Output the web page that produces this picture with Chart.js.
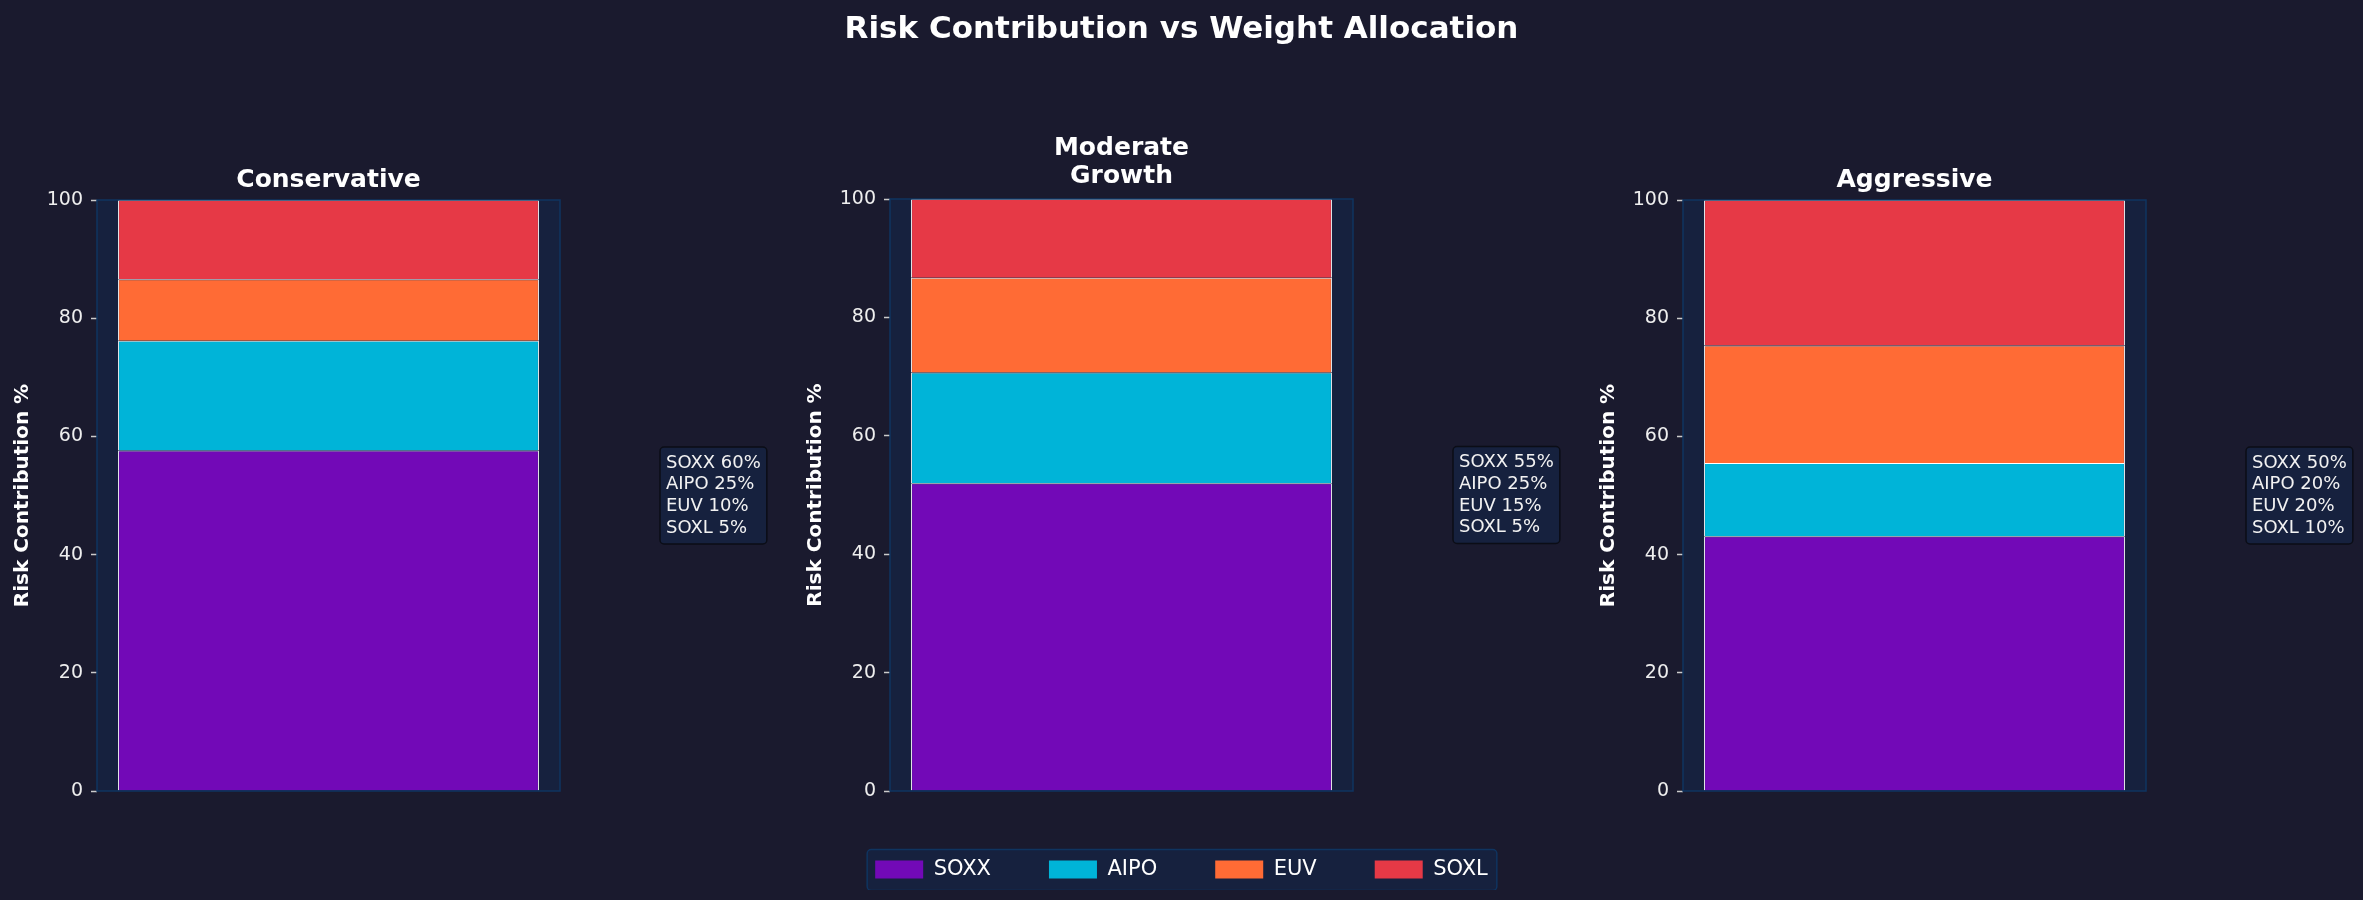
<!DOCTYPE html>
<html>
<head>
<meta charset="utf-8">
<title>Risk Contribution vs Weight Allocation</title>
<script src="https://cdn.jsdelivr.net/npm/chart.js@4.4.1/dist/chart.umd.min.js"></script>
<style>
  html, body { margin: 0; padding: 0; background: #1a1a2e; overflow: hidden; }
  canvas { position: absolute; }
</style>
</head>
<body>
<canvas id="c0" width="777" height="724" style="left:0px;top:166px"></canvas>
<canvas id="c1" width="777" height="889" style="left:793px;top:1px"></canvas>
<canvas id="c2" width="777" height="724" style="left:1586px;top:166px"></canvas>
<script>
var scenarios = ['Conservative', 'Moderate Growth', 'Aggressive'];
var assets = ['SOXX', 'AIPO', 'EUV', 'SOXL'];
var colors = ['#7209b7', '#00b4d8', '#ff6b35', '#e63946'];

// risk contribution (%) per scenario
var soxxRisk = [57.6, 52.0, 43.1];
var aipoRisk = [18.6, 18.7, 12.4];
var euvRisk  = [10.4, 16.0, 19.9];
var soxlRisk = [13.4, 13.3, 24.6];

// weight allocation (%) shown in the side boxes
var soxxWeight = [60, 55, 50];
var aipoWeight = [25, 25, 20];
var euvWeight  = [10, 15, 20];
var soxlWeight = [5, 5, 10];

var yTicks = [0, 20, 40, 60, 80, 100];

var riskSeries = [soxxRisk, aipoRisk, euvRisk, soxlRisk];
var weightSeries = [soxxWeight, aipoWeight, euvWeight, soxlWeight];

var FONT = "'DejaVu Sans', sans-serif";
Chart.defaults.font.family = FONT;
Chart.defaults.color = '#eeeeee';

function roundRect(ctx, x, y, w, h, r) {
  ctx.beginPath();
  ctx.moveTo(x + r, y);
  ctx.arcTo(x + w, y, x + w, y + h, r);
  ctx.arcTo(x + w, y + h, x, y + h, r);
  ctx.arcTo(x, y + h, x, y, r);
  ctx.arcTo(x, y, x + w, y, r);
  ctx.closePath();
}

function makePanel(i) {
  return {
    id: 'panel' + i,
    beforeDraw: function(chart) {
      var a = chart.chartArea, ctx = chart.ctx;
      ctx.save();
      ctx.fillStyle = '#16213e';
      ctx.fillRect(a.left, a.top, a.right - a.left, a.bottom - a.top);
      // legend frame (only middle chart has a legend)
      if (chart.legend && chart.options.plugins.legend.display) {
        var hb = chart.legend.legendHitBoxes;
        var l = hb[0].left - 8, r = hb[hb.length - 1].left + hb[hb.length - 1].width + 9;
        var t = hb[0].top - 9.5, h = 41;
        roundRect(ctx, l, t, r - l, h, 4);
        ctx.fillStyle = '#16213e';
        ctx.fill();
        ctx.lineWidth = 1.5;
        ctx.strokeStyle = '#0f3460';
        ctx.stroke();
      }
      ctx.restore();
    },
    afterDatasetsDraw: function(chart) {
      var a = chart.chartArea, ctx = chart.ctx;
      ctx.save();
      ctx.strokeStyle = '#0f3460';
      ctx.lineWidth = 1.5;
      ctx.strokeRect(a.left, a.top, a.right - a.left, a.bottom - a.top);
      ctx.restore();
    },
    afterDraw: function(chart) {
      var a = chart.chartArea, ctx = chart.ctx;
      var lines = assets.map(function(name, k) { return name + ' ' + weightSeries[k][i] + '%'; });
      ctx.save();
      ctx.font = '18px ' + FONT;
      var tw = 0;
      lines.forEach(function(s) { tw = Math.max(tw, ctx.measureText(s).width); });
      var lh = 21.7, px = 6, py = 5;
      var w = tw + 2 * px, h = lines.length * lh + 2 * py;
      var x0 = a.right + 100;
      var y0 = chart.scales.y.getPixelForValue(50) - h / 2;
      roundRect(ctx, x0, y0, w, h, 4);
      ctx.fillStyle = '#16213e';
      ctx.fill();
      ctx.lineWidth = 1.5;
      ctx.strokeStyle = '#0b0d16';
      ctx.stroke();
      ctx.fillStyle = '#f2f2f2';
      ctx.textBaseline = 'middle';
      ctx.textAlign = 'left';
      lines.forEach(function(s, k) {
        ctx.fillText(s, x0 + px, y0 + py + lh * (k + 0.5));
      });
      ctx.restore();
    }
  };
}

function subTitle(i, padBottom) {
  return {
    display: true,
    text: scenarios[i].split(' '),
    color: '#ffffff',
    fullSize: false,
    font: { family: FONT, size: 25, weight: 'bold', lineHeight: 1.12 },
    padding: { top: 0, bottom: padBottom }
  };
}

function makeChart(i) {
  var mid = (i === 1);
  var datasets = assets.map(function(name, k) {
    return {
      label: name,
      data: [riskSeries[k][i]],
      backgroundColor: colors[k],
      borderColor: '#ffffff',
      borderWidth: 1,
      barPercentage: 0.909,
      categoryPercentage: 1
    };
  });

  var scales = {
    x: {
      stacked: true,
      display: true,
      ticks: { display: false },
      grid: { display: false, drawTicks: false },
      border: { display: false },
      afterFit: function(s) { s.height = mid ? 10 : 99; }
    },
    y: {
      stacked: true,
      min: 0,
      max: 100,
      afterBuildTicks: function(s) { s.ticks = yTicks.map(function(v) { return { value: v }; }); },
      ticks: { color: '#eeeeee', font: { family: FONT, size: 19 }, padding: 8 },
      grid: { drawOnChartArea: false, drawTicks: true, tickLength: 6, tickColor: '#cccccc', tickWidth: 1.5 },
      border: { display: false },
      title: {
        display: true,
        text: 'Risk Contribution %',
        color: '#ffffff',
        font: { family: FONT, size: 20, weight: 'bold' },
        padding: { top: 10.5, bottom: 0 }
      },
      afterFit: function(s) { s.width = 97; }
    }
  };
  if (mid) {
    scales.r = {
      type: 'linear',
      position: 'right',
      display: true,
      ticks: { display: false },
      grid: { display: false, drawTicks: false },
      border: { display: false },
      afterFit: function(s) { s.width = 217; }
    };
  }

  return new Chart(document.getElementById('c' + i), {
    type: 'bar',
    data: { labels: [scenarios[i]], datasets: datasets },
    options: {
      responsive: false,
      animation: false,
      devicePixelRatio: 1,
      layout: { padding: { left: 0, top: 0, bottom: 0, right: mid ? 0 : 217 } },
      plugins: {
        title: mid ? {
          display: true,
          text: 'Risk Contribution vs Weight Allocation',
          color: '#ffffff',
          font: { family: FONT, size: 31, weight: 'bold', lineHeight: 1.2 },
          padding: { top: 10, bottom: 85.8 }
        } : subTitle(i, 6),
        subtitle: mid ? subTitle(i, 9) : { display: false },
        legend: {
          display: mid,
          position: 'bottom',
          labels: {
            color: '#ffffff',
            font: { family: FONT, size: 21 },
            boxWidth: 48,
            boxHeight: 18,
            padding: 58,
            generateLabels: function(chart) {
              return Chart.defaults.plugins.legend.labels.generateLabels(chart).map(function(l) {
                l.lineWidth = 0;
                l.strokeStyle = l.fillStyle;
                return l;
              });
            }
          }
        },
        tooltip: { enabled: false }
      },
      scales: scales
    },
    plugins: [makePanel(i)]
  });
}

makeChart(0);
makeChart(1);
makeChart(2);
</script>
</body>
</html>
